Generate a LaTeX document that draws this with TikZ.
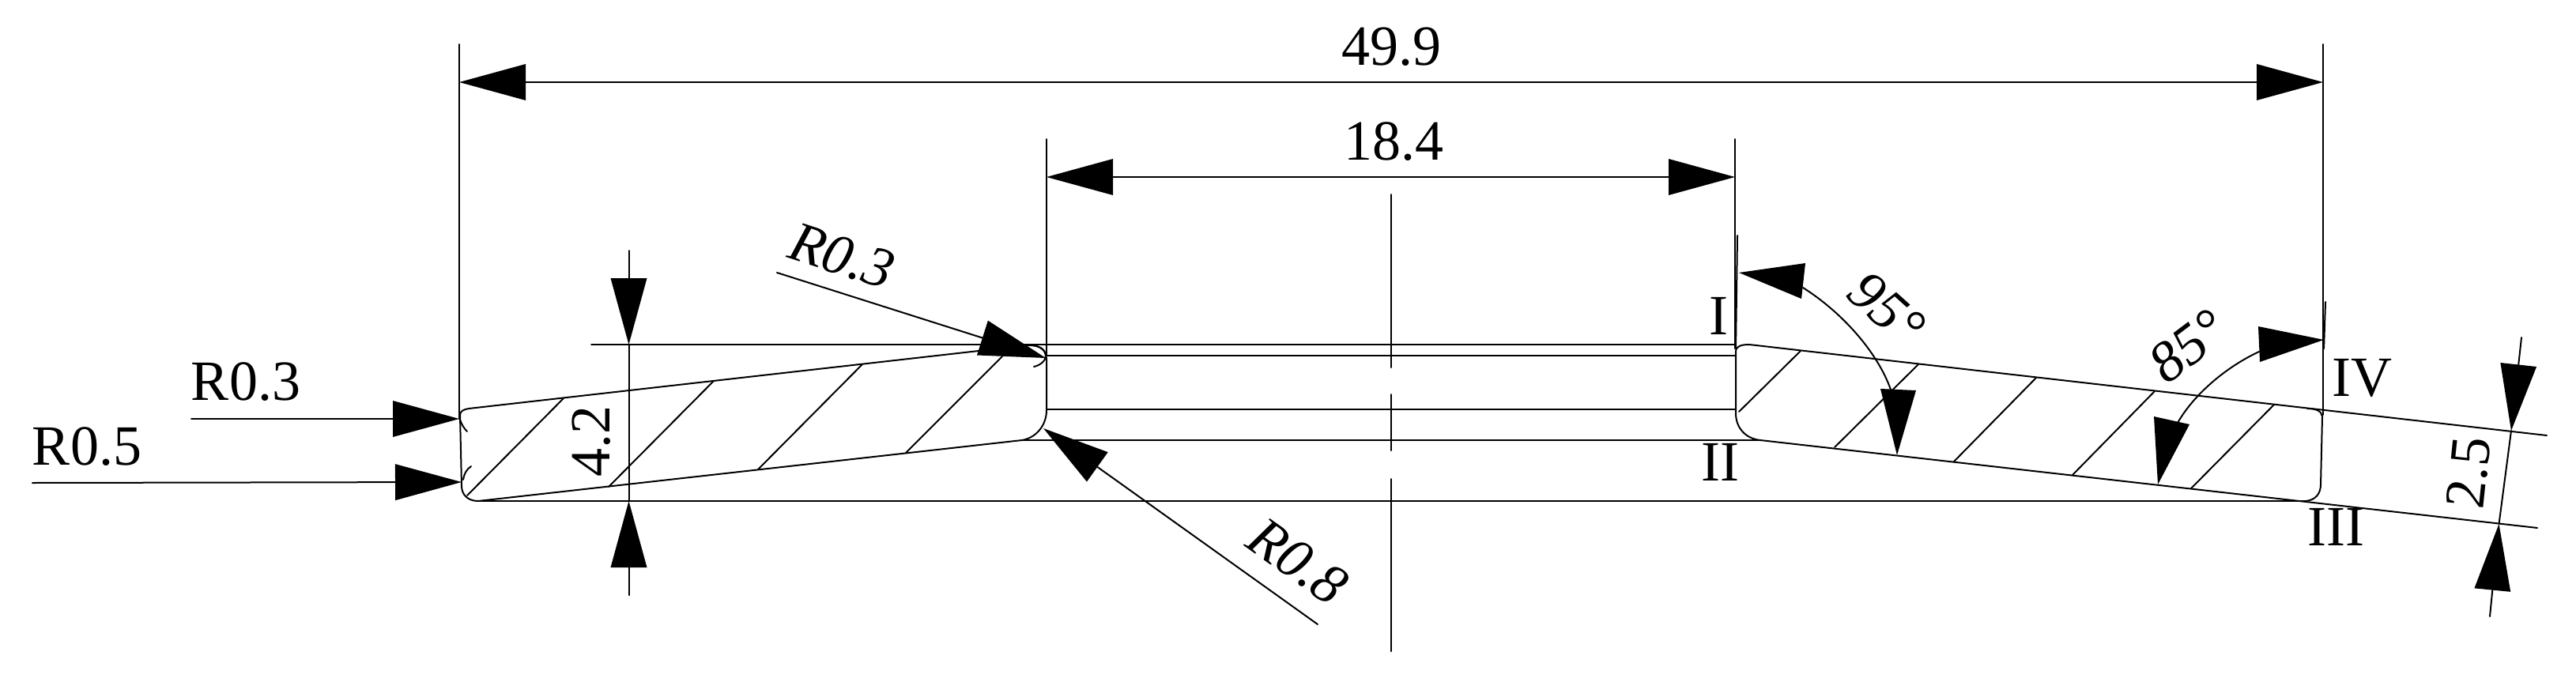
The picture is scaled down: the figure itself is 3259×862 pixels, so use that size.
\documentclass[tikz,border=0pt]{standalone}
\usepackage{fontspec}
\setmainfont{Liberation Serif}
\usetikzlibrary{arrows.meta}
\tikzset{
  x=1pt,y=-1pt,
  ln/.style={line width=2pt,line cap=round,line join=round},
  dimtip/.style={-{Triangle[length=84pt,width=46pt,line width=0pt]}},
  dimtips/.style={{Triangle[length=84pt,width=46pt,line width=0pt]}-{Triangle[length=84pt,width=46pt,line width=0pt]}},
  lbl/.style={inner sep=0pt,font=\fontsize{72}{72}\selectfont},
  lbli/.style={lbl,font=\fontsize{72}{72}\selectfont\itshape},
  head/.style={fill=black,draw=none},
}
\begin{document}
\begin{tikzpicture}[ln]
\useasboundingbox (0,0) rectangle (3259,862);
% extension lines and axis
\coordinate (eL0) at (581,56); \coordinate (eL1) at (581,530);
\coordinate (eR0) at (2939,56); \coordinate (eR1) at (2939,525);
\coordinate (fL0) at (1324,176); \coordinate (fL1) at (1324,450);
\coordinate (fR0) at (2195,176); \coordinate (fR1) at (2195,441);
\draw (eL0)--(eL1); \draw (eR0)--(eR1); \draw (fL0)--(fL1); \draw (fR0)--(fR1);
\coordinate (gR0) at (2198,298); \coordinate (gR1) at (2196,441);
\draw (gR0)--(gR1);
\coordinate (hR0) at (2942,382); \coordinate (hR1) at (2940,441);
\draw (hR0)--(hR1);
\coordinate (c0) at (1760,246); \coordinate (c1) at (1760,465);
\coordinate (c2) at (1760,499); \coordinate (c3) at (1760,570);
\coordinate (c4) at (1760,606); \coordinate (c5) at (1760,824);
\draw (c0)--(c1); \draw (c2)--(c3); \draw (c4)--(c5);
% left section
\draw (593,517)--(1300,437) .. controls (1314,436) and (1324,442) .. (1324,455)
  --(1324,519) .. controls (1324,538) and (1311,554) .. (1293,557)
  --(605,634) .. controls (592,634) and (584,626) .. (584,615)
  --(582,525) .. controls (582,520) and (587,518) .. (593,517)--cycle;
% right section
\draw (2213,436)--(3222,551);
\draw (2227,557)--(3210,668);
\draw (2213,436) .. controls (2203,436) and (2196,438) .. (2196,445)
  --(2196,523) .. controls (2196,541) and (2208,555) .. (2227,557);
\draw (2919,517) .. controls (2930,517) and (2937,520) .. (2938,527)
  --(2936,613) .. controls (2936,625) and (2929,633) .. (2917,634);
% radius ticks
\draw (582,531) .. controls (584,537) and (587,542) .. (591,546);
\draw (596,590) .. controls (590,594) and (587,600) .. (586,607);
\draw (1303,437) .. controls (1316,437) and (1323,443) .. (1323,450) .. controls (1323,456) and (1317,462) .. (1308,464);
% horizontals
\draw (748,436)--(2196,436);
\draw (1324,450)--(2196,450);
\draw (1324,518)--(2196,518);
\draw (1293,557)--(2227,557);
\draw (605,634)--(2917,634);
% hatching
\draw (713,504)--(591,627); \draw (903,482)--(770,616); \draw (1091,461)--(959,594); \draw (1268,451)--(1146,573);
\draw (2278,444)--(2200,521); \draw (2427,461)--(2321,566); \draw (2576,478)--(2472,584); \draw (2726,495)--(2622,601); \draw (2877,512)--(2772,618);
% dimensions
\coordinate (a1) at (581,104); \coordinate (a2) at (2939,104);
\draw[dimtips] (a1)--(a2);
\node[lbl] (t499) at (1760,59) {49.9};
\coordinate (b1) at (1324,224); \coordinate (b2) at (2195,224);
\draw[dimtips] (b1)--(b2);
\node[lbl] (t184) at (1763,179) {18.4};
\coordinate (d0) at (795.5,317); \coordinate (d1) at (795.5,436);
\coordinate (d2) at (795.5,753); \coordinate (d3) at (795.5,634);
\draw[dimtip] (d0)--(d1); \draw[dimtip] (d2)--(d3); \draw (d1)--(d3);
\node[lbl,rotate=90] (t42) at (748,558) {4.2};
\coordinate (r30) at (242,530); \coordinate (r31) at (581,530);
\draw[dimtip] (r30)--(r31);
\node[lbl] (tr03) at (311,483) {R0.3};
\coordinate (r50) at (41,611); \coordinate (r51) at (584,610);
\draw[dimtip] (r50)--(r51);
\node[lbl] (tr05) at (110,565) {R0.5};
\coordinate (s0) at (983,345); \coordinate (s1) at (1323,453);
\draw[dimtip] (s0)--(s1);
\node[lbli,rotate=-18] (tr03b) at (1065,324) {R0.3};
\coordinate (u0) at (1667,790); \coordinate (u1) at (1320,542);
\draw[dimtip] (u0)--(u1);
\node[lbli,rotate=-35.5] (tr08) at (1642,710) {R0.8};
\coordinate (v0) at (3190,427); \coordinate (v1) at (3177,545);
\coordinate (v2) at (3150,780); \coordinate (v3) at (3161.5,663);
\draw[dimtip] (v0)--(v1); \draw[dimtip] (v2)--(v3); \draw (v1)--(v3);
\node[lbl,rotate=84] (t25) at (3123,598) {2.5};
% angle 95
\coordinate (p0) at (2200,345); \coordinate (p1) at (2284,333); \coordinate (p2) at (2279,378);
\coordinate (p3) at (2400,576); \coordinate (p4) at (2379,492); \coordinate (p5) at (2424,494);
\coordinate (pa) at (2281,364); \coordinate (pb) at (2392,493);
\draw (pa) .. controls (2330,395) and (2375,445) .. (pb);
\fill[head] (p0)--(p1)--(p2)--cycle;
\fill[head] (p3)--(p4)--(p5)--cycle;
\node[lbli,rotate=-42] (t95) at (2387,391) {95°};
% angle 85
\coordinate (q0) at (2730,613); \coordinate (q1) at (2725,527); \coordinate (q2) at (2770,537);
\coordinate (q3) at (2940,430); \coordinate (q4) at (2857,413); \coordinate (q5) at (2859,458);
\coordinate (qa) at (2755,535); \coordinate (qb) at (2858,445);
\draw (qa) .. controls (2775,500) and (2815,465) .. (qb);
\fill[head] (q0)--(q1)--(q2)--cycle;
\fill[head] (q3)--(q4)--(q5)--cycle;
\node[lbli,rotate=37] (t85) at (2768,438) {85°};
% roman labels
\node[lbl] (rI) at (2174,400) {I};
\node[lbl] (rII) at (2176,585) {II};
\node[lbl] (rIII) at (2955,667) {III};
\node[lbl] (rIV) at (2988,478) {IV};
\end{tikzpicture}
\end{document}
